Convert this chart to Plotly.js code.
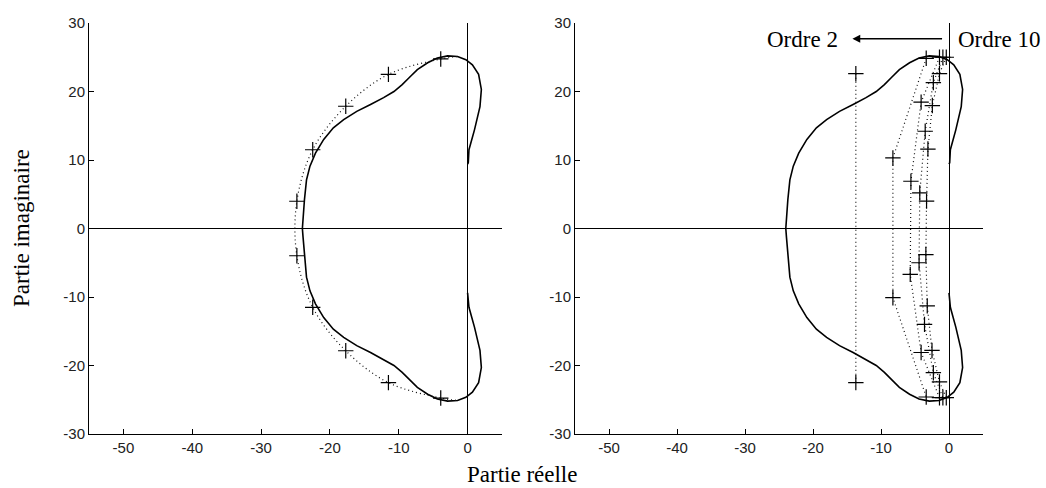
<!DOCTYPE html>
<html>
<head>
<meta charset="utf-8">
<script src="https://cdn.plot.ly/plotly-3.0.1.min.js"></script>
<style>html,body{margin:0;padding:0;background:#fff;}#chart{width:1046px;height:488px;}</style>
</head>
<body>
<div id="chart"></div>
<script>
const curveRe = [0.0, 0.1, 0.2, 1.0, 1.8, 2.0, 1.6, 0.7, -0.25, -1.46, -2.9, -4.4, -5.8, -7.3, -8.5, -9.5, -10.7, -12.2, -14.1, -16.1, -18.0, -19.5, -20.9, -22.1, -22.9, -23.4, -23.7, -23.9, -24.0,
  -23.9, -23.7, -23.4, -22.9, -22.1, -20.9, -19.5, -18.0, -16.1, -14.1, -12.2, -10.7, -9.5, -8.5, -7.3, -5.8, -4.4, -2.9, -1.46, -0.25, 0.7, 1.6, 2.0, 1.8, 1.0, 0.2, 0.1, 0.0];
const curveIm = [9.4, 9.6, 11.5, 14.4, 17.8, 20.3, 22.5, 23.9, 24.65, 25.1, 25.2, 24.9, 24.2, 23.2, 22.0, 21.0, 20.0, 19.1, 18.1, 17.1, 15.9, 14.7, 13.0, 11.0, 9.1, 7.1, 4.2, 1.3, 0.0,
  -1.3, -4.2, -7.1, -9.1, -11.0, -13.0, -14.7, -15.9, -17.1, -18.1, -19.1, -20.0, -21.0, -22.0, -23.2, -24.2, -24.9, -25.2, -25.1, -24.65, -23.9, -22.5, -20.3, -17.8, -14.4, -11.5, -9.6, -9.4];

// Left panel: poles (order 10)
const polesRe = [-3.9, -11.5, -17.7, -22.5, -24.8, -24.8, -22.5, -17.7, -11.5, -3.9];
const polesIm = [24.75, 22.5, 17.85, 11.5, 3.98, -3.98, -11.5, -17.85, -22.5, -24.75];
// dotted arc through the poles, ends read where it meets the solid curve
const arcRe = [-1.5, -3.9, -11.5, -17.7, -22.5, -24.8, -24.8, -22.5, -17.7, -11.5, -3.9, -1.5];
const arcIm = [25.1, 24.75, 22.5, 17.85, 11.5, 3.98, -3.98, -11.5, -17.85, -22.5, -24.75, -25.1];

// Right panel: poles for orders 2..10
const o2Re = [-13.7, -13.7];
const o2Im = [22.6, -22.5];
const o4Re = [-3.35, -8.25, -8.25, -3.35];
const o4Im = [24.85, 10.3, -10.1, -24.6];
const o6Re = [-1.4, -4.1, -5.6, -5.7, -4.1, -1.4];
const o6Im = [25.0, 18.45, 6.9, -6.7, -18.1, -24.7];
const o8Re = [-0.9, -2.3, -3.5, -4.3, -4.4, -3.6, -2.3, -0.9];
const o8Im = [25.0, 21.3, 14.2, 5.2, -5.0, -14.0, -21.05, -24.7];
const o10Re = [-0.4, -1.4, -2.45, -3.1, -3.3, -3.4, -3.2, -2.5, -1.4, -0.4];
const o10Im = [25.0, 22.6, 17.95, 11.6, 4.0, -3.8, -11.3, -17.8, -22.4, -24.7];

const xTicks = [-50, -40, -30, -20, -10, 0];
const yTicks = [-30, -20, -10, 0, 10, 20, 30];

const W = 1046, H = 488;
const px = v => v / W, py = v => 1 - v / H;

const solid = {color: '#000', width: 1.6};
const dotted = {color: '#111', width: 1.2, dash: '1px,3px'};
const mk = {symbol: 'cross-thin-open', size: 11, line: {color: '#000', width: 1.2}, color: '#000'};

const traces = [];
traces.push({x: curveRe, y: curveIm, xaxis: 'x', yaxis: 'y', mode: 'lines', line: solid});
traces.push({x: arcRe, y: arcIm, xaxis: 'x', yaxis: 'y', mode: 'lines', line: Object.assign({shape: 'spline'}, dotted)});
traces.push({x: polesRe, y: polesIm, xaxis: 'x', yaxis: 'y', mode: 'markers', marker: mk});

traces.push({x: curveRe, y: curveIm, xaxis: 'x2', yaxis: 'y2', mode: 'lines', line: solid});
[[o2Re, o2Im], [o4Re, o4Im], [o6Re, o6Im], [o8Re, o8Im], [o10Re, o10Im]].forEach(([r, i]) => {
  traces.push({x: r, y: i, xaxis: 'x2', yaxis: 'y2', mode: 'lines', line: dotted});
  traces.push({x: r, y: i, xaxis: 'x2', yaxis: 'y2', mode: 'markers', marker: mk});
});

const tickFont = {family: 'Liberation Sans, Arial, sans-serif', size: 15, color: '#222'};
const serif = {family: 'Liberation Serif, Times New Roman, serif', size: 23, color: '#000'};

function xa(d0, d1, anchor) {
  return {domain: [px(d0), px(d1)], range: [-55, 5], tickvals: xTicks, ticktext: xTicks.map(String), anchor: anchor,
    ticks: 'inside', ticklen: 5, tickcolor: '#000', showline: true, linecolor: '#000', linewidth: 1,
    zeroline: true, zerolinecolor: '#000', zerolinewidth: 1, showgrid: false, tickfont: tickFont, fixedrange: true};
}
function ya(anchor) {
  return {domain: [py(434), py(23)], range: [-30, 30], tickvals: yTicks, ticktext: yTicks.map(String), anchor: anchor,
    ticks: 'inside', ticklen: 5, tickcolor: '#000', showline: true, linecolor: '#000', linewidth: 1,
    zeroline: true, zerolinecolor: '#000', zerolinewidth: 1, showgrid: false, tickfont: tickFont, fixedrange: true};
}

const layout = {
  width: W, height: H, margin: {l: 0, r: 0, t: 0, b: 0},
  paper_bgcolor: '#fff', plot_bgcolor: '#fff', showlegend: false,
  xaxis: xa(89, 502, 'y'), yaxis: ya('x'),
  xaxis2: xa(575, 983, 'y2'), yaxis2: ya('x2'),
  annotations: [
    {text: 'Partie imaginaire', xref: 'paper', yref: 'paper', x: px(22), y: py(228), textangle: -90, showarrow: false, font: serif, xanchor: 'center', yanchor: 'middle'},
    {text: 'Partie réelle', xref: 'paper', yref: 'paper', x: px(522), y: py(474), showarrow: false, font: serif, xanchor: 'center', yanchor: 'middle'},
    {text: 'Ordre 2', xref: 'paper', yref: 'paper', x: px(802), y: py(40), showarrow: false, font: serif, xanchor: 'center', yanchor: 'middle'},
    {text: 'Ordre 10', xref: 'paper', yref: 'paper', x: px(999), y: py(40), showarrow: false, font: serif, xanchor: 'center', yanchor: 'middle'},
    {text: '', xref: 'x2', yref: 'y2', x: -14.2, y: 27.7, axref: 'x2', ayref: 'y2', ax: -0.8, ay: 27.7,
      showarrow: true, arrowhead: 2, arrowsize: 1.2, arrowwidth: 1.3, arrowcolor: '#000'}
  ]
};

Plotly.newPlot('chart', traces, layout, {staticPlot: true, displayModeBar: false});
</script>
</body>
</html>
